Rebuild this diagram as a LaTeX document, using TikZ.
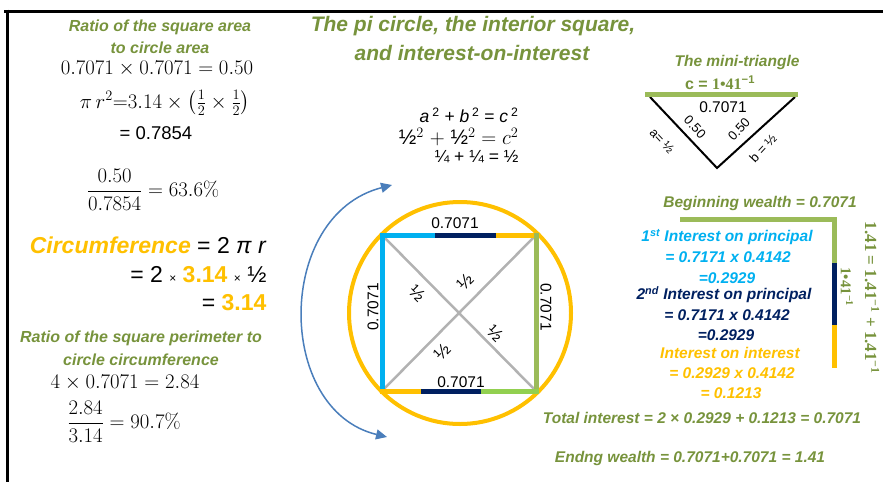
\documentclass[tikz,border=0pt]{standalone}
\usepackage{amsmath,amssymb}
\usepackage[no-math]{fontspec}
\setmainfont{Liberation Sans}
\newfontfamily\serifnums{Liberation Serif}
\usepackage{xcolor}
\usepackage{tikz}
\usetikzlibrary{arrows.meta}
\definecolor{grn}{HTML}{77933C}
\definecolor{orng}{HTML}{FFC000}
\definecolor{ltblue}{HTML}{00B0F0}
\definecolor{navy}{HTML}{002060}
\definecolor{sidegreen}{HTML}{9BBB59}
\definecolor{limegreen}{HTML}{92D050}
\definecolor{arcblue}{HTML}{4A7EBB}

\begin{document}
\begin{tikzpicture}[x=1pt, y=-1pt,
  head/.style={text=grn, font=\fontsize{16}{18}\selectfont\bfseries\itshape},
  wealth/.style={font=\fontsize{15.5}{17}\selectfont\bfseries\itshape},
  mathtxt/.style={font=\fontsize{20}{22}\selectfont},
  plain/.style={font=\fontsize{17.5}{19}\selectfont},
  sidelbl/.style={font=\fontsize{15.5}{17}\selectfont, inner sep=1pt},
  small/.style={font=\fontsize{13}{15}\selectfont, inner sep=0pt},
  half/.style={font=\fontsize{18}{20}\selectfont, inner sep=0pt},
  sqside/.style={line width=5pt, line cap=rect},
  diag/.style={line width=2.5pt, black!30}]
\useasboundingbox (0,0) rectangle (883,482);
% frame
\draw[line width=3pt] (4,11) -- (883,11);
\draw[line width=3pt] (7.5,9.5) -- (7.5,482);
% title
\node[head, font=\fontsize{21}{23}\selectfont\bfseries\itshape] (titleA) at (473,26) {The pi circle, the interior square,};
\node[head, font=\fontsize{21}{23}\selectfont\bfseries\itshape] (titleB) at (472,53) {and interest-on-interest};
% square area over circle area
\node[head] (areaA) at (160,27) {Ratio of the square area};
\node[head] (areaB) at (160,48) {to circle area};
\node[mathtxt] (areaC) at (157,69) {$0.7071 \times 0.7071 = 0.50$};
\node[mathtxt] (areaD) at (165,103) {$\pi\, r^2{=}3.14 \times \left(\frac{1}{2} \times \frac{1}{2}\right)$};
\node[plain, font=\fontsize{18.5}{20}\selectfont] (areaE) at (156,133) {= 0.7854};
\node[mathtxt] (areaF) at (153,190) {$\dfrac{0.50}{0.7854} = 63.6\%$};
% circumference
\node[font=\fontsize{23}{25}\selectfont, anchor=east] (circA) at (270,245) {\textcolor{orng}{\bfseries\itshape Circumference} = 2 \textit{π r}};
\node[font=\fontsize{23}{25}\selectfont, anchor=east] (circB) at (270,275) {= 2 {\fontsize{12}{14}\selectfont×} \textcolor{orng}{\bfseries 3.14} {\fontsize{12}{14}\selectfont×} ½};
\node[font=\fontsize{23}{25}\selectfont, anchor=east] (circC) at (270,303) {= \textcolor{orng}{\bfseries 3.14}};
% square perimeter over circumference
\node[head] (periA) at (141,338) {Ratio of the square perimeter to};
\node[head] (periB) at (141,360) {circle circumference};
\node[mathtxt] (periC) at (125,383) {$4 \times 0.7071 = 2.84$};
\node[mathtxt] (periD) at (124,422) {$\dfrac{2.84}{3.14} = 90.7\%$};
% pythagoras
\node[plain, anchor=east] (pyA) at (522,115) {\textit{a}\,\textsuperscript{2} + \textit{b}\,\textsuperscript{2} = \textit{c}\,\textsuperscript{2}};
\node[plain, font=\fontsize{21}{23}\selectfont, anchor=east] (pyB) at (522,137) {½$^2$ $+$ ½$^2$ $= c^2$};
\node[plain, anchor=east] (pyC) at (522,157) {¼ + ¼ = ½};
% double arrow round the circle
\coordinate (arcTop) at (392,185);
\coordinate (arcBot) at (387,437);
\draw[arcblue, line width=1.5pt, {Triangle[length=11pt,width=10pt]}-{Triangle[length=11pt,width=10pt]}] (arcTop) .. controls (275,215) and (275,410) .. (arcBot);
% circle and interior square
\coordinate (ctr) at (460,313);
\coordinate (sqTL) at (382,235); \coordinate (sqTR) at (536,235);
\coordinate (sqBR) at (536,391); \coordinate (sqBL) at (382,391);
\coordinate (topA) at (437,235); \coordinate (topB) at (498,235);
\coordinate (botA) at (418,391); \coordinate (botB) at (478,391);
\draw[orng, line width=4pt] (ctr) circle (111);
\draw[diag] (sqTL) -- (sqBR);
\draw[diag] (sqBL) -- (sqTR);
\draw[sqside, ltblue] (sqBL) -- (sqTL) -- (topA);
\draw[sqside, navy] (topA) -- (topB);
\draw[sqside, orng] (topB) -- (sqTR);
\draw[sqside, sidegreen] (sqTR) -- (sqBR);
\draw[sqside, limegreen] (sqBR) -- (botB);
\draw[sqside, navy] (botB) -- (botA);
\draw[sqside, orng] (botA) -- (sqBL);
\node[sidelbl] (lblTop) at (455,223) {0.7071};
\node[sidelbl] (lblBot) at (461,382) {0.7071};
\node[sidelbl, rotate=90] (lblLeft) at (373,307) {0.7071};
\node[sidelbl, rotate=-90] (lblRight) at (546,307) {0.7071};
\node[half, rotate=-45] (halfUL) at (417,293) {½};
\node[half, rotate=45] (halfUR) at (465,282) {½};
\node[half, rotate=-45] (halfLR) at (495,333) {½};
\node[half, rotate=45] (halfLL) at (442,352) {½};
% mini-triangle
\node[head, font=\fontsize{15.5}{17}\selectfont\bfseries\itshape] (miniT) at (737,62) {The mini-triangle};
\node[text=grn, font=\fontsize{16}{18}\selectfont\bfseries] (miniC) at (720,83) {c = {\serifnums 1•41}\textsuperscript{−1}};
\coordinate (cL) at (645,94); \coordinate (cR) at (798,94);
\coordinate (triL) at (650,97); \coordinate (triB) at (717,168); \coordinate (triR) at (795,97);
\draw[line width=2pt] (triL) -- (triB) -- (triR);
\draw[sidegreen, line width=5pt] (cL) -- (cR);
\node[sidelbl, inner sep=0pt] (miniHyp) at (723,107) {0.7071};
\node[small, rotate=-47] (legA) at (695,127) {0.50};
\node[small, rotate=-47] (legAname) at (662,141) {a= ½};
\node[small, rotate=47] (legB) at (739,129) {0.50};
\node[small, rotate=47] (legBname) at (763,148) {b = ½};
% wealth bar
\coordinate (wStart) at (680,219); \coordinate (wCorner) at (834,219);
\coordinate (wG) at (834,263); \coordinate (wN) at (834,325); \coordinate (wEnd) at (834,368);
\draw[sidegreen, line width=5pt] (wStart) -- (wCorner) -- (wG);
\draw[navy, line width=5pt] (wG) -- (wN);
\draw[orng, line width=5pt] (wN) -- (wEnd);
\node[text=grn, rotate=-90, font=\fontsize{15}{17}\selectfont\serifnums\bfseries] (wPart) at (847,287) {1•41\textsuperscript{−1}};
\node[text=grn, rotate=-90, font=\fontsize{17}{19}\selectfont\serifnums\bfseries] (wSum) at (872,298) {1.41 = 1.41\textsuperscript{−1} + 1.41\textsuperscript{−1}};
% wealth texts
\node[wealth, text=grn] (begW) at (760,203) {Beginning wealth = 0.7071};
\node[wealth, text=ltblue] (intA1) at (727,237) {1\textsuperscript{st} Interest on principal};
\node[wealth, text=ltblue] (intA2) at (728,257) {= 0.7171 x 0.4142};
\node[wealth, text=ltblue] (intA3) at (727,278) {=0.2929};
\node[wealth, text=navy] (intB1) at (724,295) {2\textsuperscript{nd} Interest on principal};
\node[wealth, text=navy] (intB2) at (727,315) {= 0.7171 x 0.4142};
\node[wealth, text=navy] (intB3) at (726,335) {=0.2929};
\node[wealth, text=orng] (intC1) at (730,353) {Interest on interest};
\node[wealth, text=orng] (intC2) at (732,373) {= 0.2929 x 0.4142};
\node[wealth, text=orng] (intC3) at (731,393) {= 0.1213};
\node[wealth, text=grn] (totInt) at (702,418) {Total interest = 2 × 0.2929 + 0.1213 = 0.7071};
\node[wealth, text=grn] (endW) at (690,458) {Endng wealth = 0.7071+0.7071 = 1.41};
\end{tikzpicture}
\end{document}
